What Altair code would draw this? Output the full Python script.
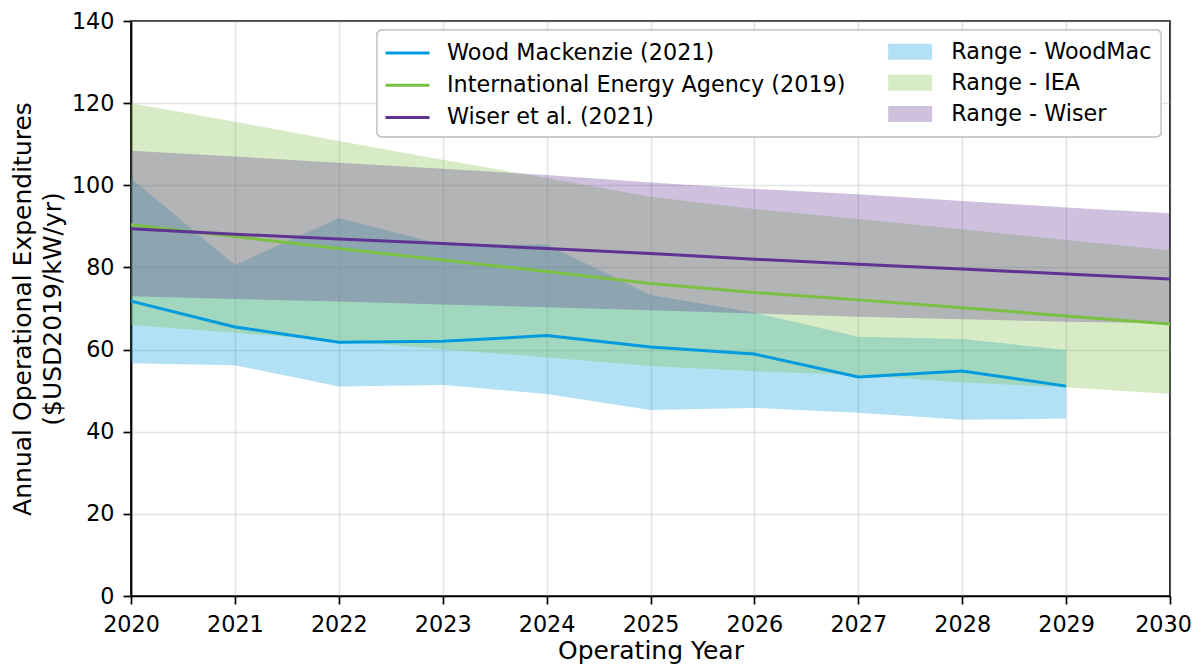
import altair as alt
import pandas as pd

years = list(range(2020, 2031))
wm_years = list(range(2020, 2030))

wm_mid = [71.8, 65.5, 61.8, 62.0, 63.4, 60.6, 58.9, 53.3, 54.8, 51.1]
wm_low = [56.7, 56.2, 51.0, 51.4, 49.2, 45.3, 45.8, 44.6, 42.9, 43.2]
wm_high = [101.7, 80.6, 92.0, 85.6, 85.6, 73.3, 69.0, 63.1, 62.6, 59.9]

iea_mid = [90.4, 87.5, 84.6, 81.8, 79.0, 76.1, 73.9, 72.1, 70.2, 68.2, 66.2]
iea_low = [66.0, 64.1, 62.1, 60.1, 58.1, 56.0, 54.7, 53.8, 52.0, 50.8, 49.2]
iea_high = [120.0, 115.5, 110.8, 106.2, 101.8, 97.2, 94.2, 91.8, 89.3, 86.7, 84.2]

wiser_mid = [89.4, 88.1, 86.9, 85.8, 84.6, 83.4, 82.0, 80.8, 79.6, 78.4, 77.2]
wiser_low = [73.0, 72.3, 71.7, 71.0, 70.3, 69.6, 68.8, 68.0, 67.4, 66.8, 66.4]
wiser_high = [108.4, 107.0, 105.5, 104.0, 102.5, 100.7, 99.1, 97.8, 96.2, 94.6, 93.2]

line_names = ["Wood Mackenzie (2021)", "International Energy Agency (2019)", "Wiser et al. (2021)"]
range_names = ["Range - WoodMac", "Range - IEA", "Range - Wiser"]
colors = ["#009ADE", "#7AC143", "#5F3393"]

x_ticks = list(range(2020, 2031))
y_ticks = list(range(0, 141, 20))

series = [
    (wm_years, wm_mid, wm_low, wm_high),
    (years, iea_mid, iea_low, iea_high),
    (years, wiser_mid, wiser_low, wiser_high),
]

line_rows, band_rows = [], []
for (yrs, mid, lo, hi), ln, rn in zip(series, line_names, range_names):
    for y, m, l, h in zip(yrs, mid, lo, hi):
        line_rows.append({"year": y, "value": m, "series": ln})
        band_rows.append({"year": y, "low": l, "high": h, "range": rn})
lines_df = pd.DataFrame(line_rows)
bands_df = pd.DataFrame(band_rows)

xscale = alt.Scale(domain=[2020, 2030], nice=False, zero=False)
yscale = alt.Scale(domain=[0, 140], nice=False)

x_enc = alt.X("year:Q", scale=xscale,
              axis=alt.Axis(values=x_ticks, format="d", title="Operating Year",
                            labelFlush=False, labelOverlap=False,
                            labelOffset={"condition": {"test": "datum.value == 2030", "value": -7},
                                         "value": 0}))
y_axis = alt.Axis(values=y_ticks, labelOverlap=False,
                  title=["Annual Operational Expenditures", "($USD2019/kW/yr)"])

fill_scale = alt.Scale(domain=range_names, range=colors)
stroke_scale = alt.Scale(domain=line_names, range=colors)

fill_legend = alt.Legend(
    title=None, orient="none", legendX=768, legendY=19.5,
    symbolType="M-2,-0.727L2,-0.727L2,0.727L-2,0.727Z", symbolSize=484,
    symbolOpacity=0.3, symbolStrokeWidth=0, labelOffset=30,
    rowPadding=8.2, labelLimit=600, padding=0,
)
stroke_legend = alt.Legend(
    title=None, orient="none", legendX=264, legendY=19.5,
    symbolType="M-2,0L2,0", symbolSize=484, symbolStrokeWidth=3,
    labelOffset=27, rowPadding=8.2, labelLimit=600, padding=0,
)

layers = []
for rn in range_names:
    layers.append(
        alt.Chart(bands_df).transform_filter(alt.datum.range == rn)
        .mark_area(fillOpacity=0.3, strokeWidth=0)
        .encode(
            x=x_enc,
            y=alt.Y("low:Q", scale=yscale, axis=y_axis),
            y2="high:Q",
            fill=alt.Fill("range:N", scale=fill_scale, legend=fill_legend),
        )
    )

frame = alt.Chart(bands_df).mark_rect(
    fill="white", fillOpacity=0.8, stroke="#cccccc", strokeWidth=1.5, cornerRadius=5
).encode(
    x=alt.value(246), x2=alt.value(1030), y=alt.value(9), y2=alt.value(115.7)
)

for ln in line_names:
    layers.append(
        alt.Chart(lines_df).transform_filter(alt.datum.series == ln)
        .mark_line(strokeWidth=3)
        .encode(
            x=x_enc,
            y=alt.Y("value:Q", scale=yscale, axis=y_axis),
            stroke=alt.Stroke("series:N", scale=stroke_scale, legend=stroke_legend),
        )
    )

layers.append(frame)

chart = alt.layer(*layers).properties(
    width=1039, height=575,
    autosize=alt.AutoSizeParams(type="none"),
    padding={"left": 123, "top": 13, "right": 23, "bottom": 70},
    background="white",
).configure(
    font="DejaVu Sans",
).configure_view(
    stroke="black", strokeWidth=1.7,
).configure_axis(
    labelFont="DejaVu Sans", labelFontSize=22.3, labelColor="black",
    titleFont="DejaVu Sans", titleFontSize=25, titleColor="black", titleFontWeight="normal",
    domainColor="black", domainWidth=1.7,
    tickColor="black", tickWidth=1.7, tickSize=8,
    labelPadding=9,
    grid=True, gridColor="#b0b0b0", gridOpacity=0.33, gridWidth=1.7,
).configure_axisX(
    titlePadding=3,
).configure_axisY(
    titlePadding=6, titleLineHeight=30,
).configure_legend(
    labelFont="DejaVu Sans", labelFontSize=22.3, labelColor="black",
)

chart.save("out.html", embed_options={"renderer": "svg", "actions": False})
